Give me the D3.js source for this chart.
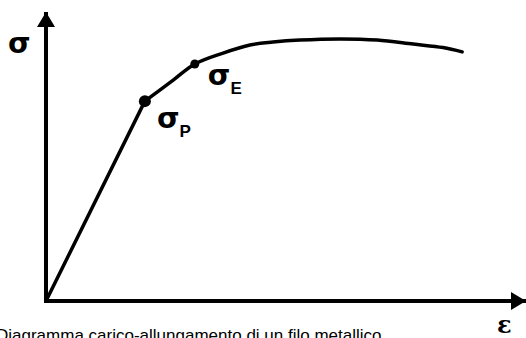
<!DOCTYPE html>
<html>
<head>
<meta charset="utf-8">
<script src="https://cdn.jsdelivr.net/npm/d3@7"></script>
<style>
  body { margin: 0; background: #fff; }
  svg { display: block; }
</style>
</head>
<body>
<svg id="chart" width="526" height="338"></svg>
<script>
// stress-strain curve, values (arbitrary units 0..100)
var strain = [0, 20.6, 26.5, 31.0, 36.9, 42.5, 47.3, 52.9, 61.3, 69.0, 76.5, 82.7, 86.7];
var stress = [0, 69.4, 76.7, 82.3, 86.1, 88.9, 89.9, 90.6, 91.0, 90.6, 89.2, 88.0, 86.5];

// marked points: proportional limit and elastic limit
var markNames = ["P", "E"];
var markStrain = [20.6, 31.0];
var markStress = [69.4, 82.3];

var caption = "Diagramma carico-allungamento di un filo metallico";

var svg = d3.select("#chart");

var x = d3.scaleLinear().domain([0, 100]).range([46, 526]);
var y = d3.scaleLinear().domain([0, 100]).range([301, 13]);

var data = strain.map(function(d, i) { return {x: d, y: stress[i]}; });

// axes with arrows
svg.append("defs").append("marker")
  .attr("id", "arrow")
  .attr("viewBox", "0 0 15 18")
  .attr("refX", 15).attr("refY", 9)
  .attr("markerWidth", 15).attr("markerHeight", 18)
  .attr("markerUnits", "userSpaceOnUse")
  .attr("orient", "auto")
  .append("path")
  .attr("d", "M0,0L15,9L0,18Z")
  .attr("fill", "#000");

svg.append("line")
  .attr("x1", x(0)).attr("y1", y(0) + 2)
  .attr("x2", x(0)).attr("y2", y(100) - 1)
  .attr("stroke", "#000").attr("stroke-width", 4)
  .attr("marker-end", "url(#arrow)");

svg.append("line")
  .attr("x1", x(0) - 2).attr("y1", y(0))
  .attr("x2", x(100)).attr("y2", y(0))
  .attr("stroke", "#000").attr("stroke-width", 4)
  .attr("marker-end", "url(#arrow)");

// curve: straight elastic part up to P, then smooth
var straight = d3.line()
  .x(function(d) { return x(d.x); })
  .y(function(d) { return y(d.y); });
var smooth = d3.line()
  .x(function(d) { return x(d.x); })
  .y(function(d) { return y(d.y); })
  .curve(d3.curveCatmullRom.alpha(0.5));

svg.append("path")
  .datum(data.slice(0, 2))
  .attr("d", straight)
  .attr("fill", "none")
  .attr("stroke", "#000")
  .attr("stroke-width", 3.5)
  .attr("stroke-linecap", "round");

svg.append("path")
  .datum(data.slice(1))
  .attr("d", smooth)
  .attr("fill", "none")
  .attr("stroke", "#000")
  .attr("stroke-width", 3.5)
  .attr("stroke-linecap", "round");

// dots
svg.selectAll(".dot")
  .data(markNames)
  .enter().append("circle")
  .attr("class", "dot")
  .attr("cx", function(d, i) { return x(markStrain[i]); })
  .attr("cy", function(d, i) { return y(markStress[i]); })
  .attr("r", function(d, i) { return i == 0 ? 6 : 4.5; })
  .attr("fill", "#000");

// sigma labels with subscripts
var offs = [[12, 27], [13, 21]];
var lab = svg.selectAll(".lab")
  .data(markNames)
  .enter().append("text")
  .attr("class", "lab")
  .attr("x", function(d, i) { return x(markStrain[i]) + offs[i][0]; })
  .attr("y", function(d, i) { return y(markStress[i]) + offs[i][1]; })
  .style("font-family", "DejaVu Sans")
  .style("font-weight", "bold")
  .style("font-size", "29px")
  .attr("fill", "#000");
lab.append("tspan").text("σ");
lab.append("tspan")
  .attr("dy", 9)
  .style("font-family", "Liberation Sans")
  .style("font-size", "17px")
  .text(function(d) { return d; });

// axis names
svg.append("text")
  .attr("x", x(0) - 38)
  .attr("y", y(100) + 40)
  .style("font-family", "DejaVu Sans")
  .style("font-weight", "bold")
  .style("font-size", "29px")
  .text("σ");

svg.append("text")
  .attr("x", x(100) - 29)
  .attr("y", y(0) + 32)
  .style("font-family", "DejaVu Serif")
  .style("font-weight", "bold")
  .style("font-size", "24px")
  .text("ε");

// caption (cut at the bottom edge, as in the original)
svg.append("text")
  .attr("x", -4)
  .attr("y", 341)
  .style("font-family", "Liberation Sans, Arial")
  .style("font-size", "17px")
  .text(caption);
</script>
</body>
</html>
